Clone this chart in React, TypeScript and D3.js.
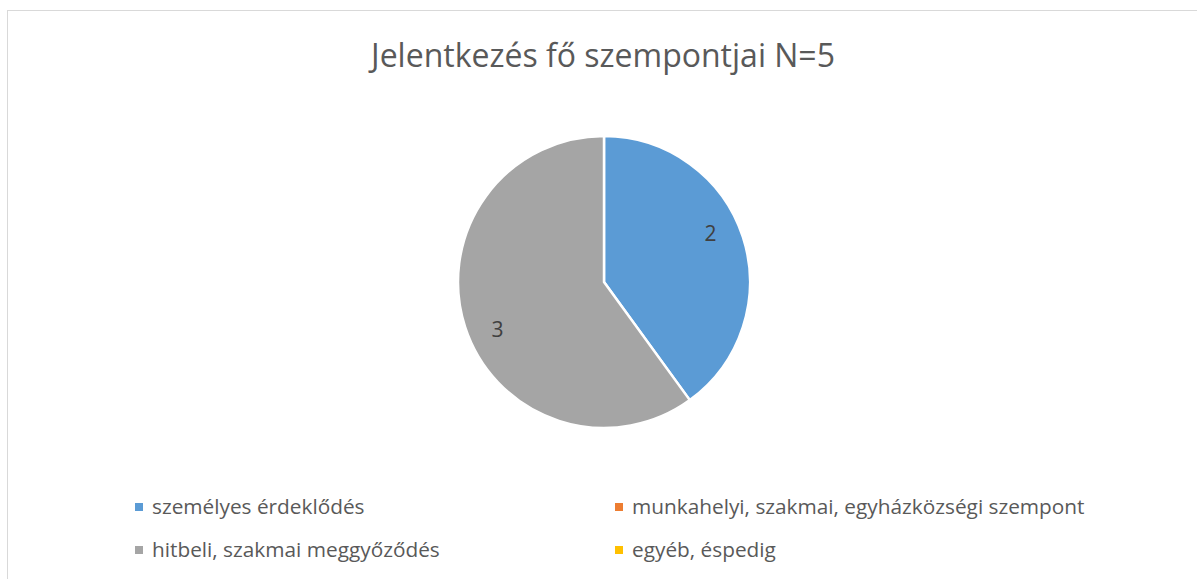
import React from "react";
import * as d3 from "d3";

// chart data
const chartTitle = "Jelentkezés fő szempontjai N=5";
const categories = [
  "személyes érdeklődés",
  "munkahelyi, szakmai, egyházközségi szempont",
  "hitbeli, szakmai meggyőződés",
  "egyéb, éspedig",
];
const values = [2, 0, 3, 0];
const colors = ["#5B9BD5", "#ED7D31", "#A5A5A5", "#FFC000"];

const W = 1197;
const H = 579;
const FONT = "'Open Sans', 'Noto Sans', sans-serif";

const App = () => {
  const svgRef = React.useRef<SVGSVGElement | null>(null);

  React.useEffect(() => {
    const svg = d3.select(svgRef.current);
    svg.selectAll("*").remove();

    // frame
    svg
      .append("rect")
      .attr("x", 7.5)
      .attr("y", 10.5)
      .attr("width", W + 10)
      .attr("height", H + 10)
      .style("fill", "#fff")
      .style("stroke", "#D9D9D9")
      .style("stroke-width", 1);

    // title
    svg
      .append("text")
      .attr("x", 603)
      .attr("y", 67)
      .attr("text-anchor", "middle")
      .style("font-family", FONT)
      .style("font-size", "32px")
      .style("fill", "#595959")
      .text(chartTitle);

    // pie
    const cx = 604;
    const cy = 282;
    const radius = 146;
    const data = categories.map((c, i) => ({ name: c, value: values[i], color: colors[i] }));
    const pie = d3
      .pie<any>()
      .value((d) => d.value)
      .sort(null);
    const arcs = pie(data).filter((a) => a.data.value > 0);
    const arc = d3.arc<any>().innerRadius(0).outerRadius(radius);

    const g = svg.append("g").attr("transform", `translate(${cx}, ${cy})`);
    g.selectAll("slices")
      .data(arcs)
      .enter()
      .append("path")
      .attr("d", arc)
      .style("fill", (d) => d.data.color)
      .style("stroke", "#fff")
      .style("stroke-width", 2.5)
      .style("stroke-linejoin", "round");

    // labels sit a little counter-clockwise of the slice middle, like Excel's best fit
    const labelR = radius * 0.8;
    const labelPos = (d: any) => {
      const a = (d.startAngle + d.endAngle) / 2 - 0.11;
      return [Math.sin(a) * labelR, -Math.cos(a) * labelR];
    };
    g.selectAll("labels")
      .data(arcs)
      .enter()
      .append("text")
      .attr("transform", (d) => `translate(${labelPos(d)})`)
      .attr("text-anchor", "middle")
      .attr("dy", "0.35em")
      .style("font-family", FONT)
      .style("font-size", "21px")
      .style("fill", "#404040")
      .text((d) => d.data.value);

    // legend, two columns
    const legendX = [135, 615];
    const legendY = [507, 550];
    const leg = svg
      .selectAll("legend")
      .data(data)
      .enter()
      .append("g")
      .attr("transform", (d, i) => `translate(${legendX[i % 2]}, ${legendY[Math.floor(i / 2)]})`);
    leg
      .append("rect")
      .attr("x", 0)
      .attr("y", -4)
      .attr("width", 8)
      .attr("height", 8)
      .style("fill", (d) => d.color);
    leg
      .append("text")
      .attr("x", 17)
      .attr("y", 0)
      .attr("dy", "0.35em")
      .style("font-family", FONT)
      .style("font-size", "20.8px")
      .style("fill", "#595959")
      .text((d) => d.name);
  }, []);

  return (
    <svg
      ref={svgRef}
      width={W}
      height={H}
      style={{ position: "absolute", left: 0, top: 0, background: "#fff" }}
    />
  );
};

export default App;
